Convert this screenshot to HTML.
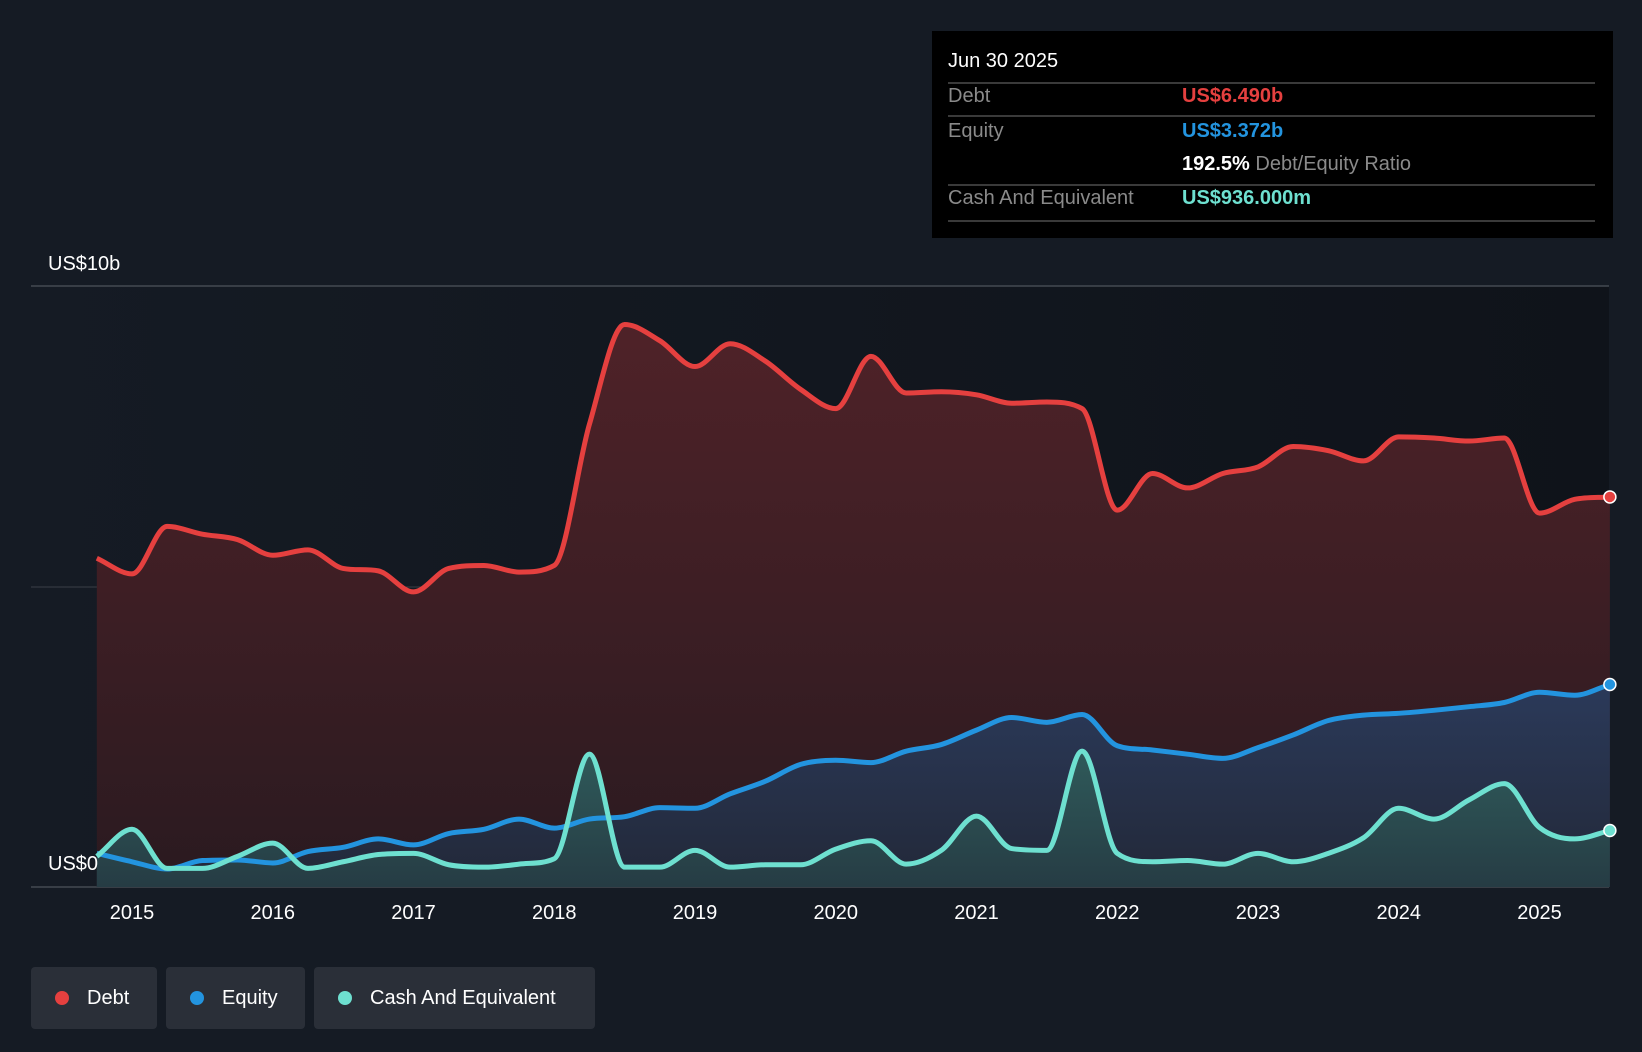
<!DOCTYPE html>
<html><head><meta charset="utf-8"><style>
body{margin:0;width:1642px;height:1052px;background:#151b24;font-family:"Liberation Sans",sans-serif;overflow:hidden;position:relative}
.tt{position:absolute;left:932px;top:31px;width:681px;height:207px;background:#000}
.tt div{position:absolute;font-size:20px;white-space:nowrap}
.sep{position:absolute;left:16px;width:647px;height:2px;background:#3a3a3a}
.leg{position:absolute;top:967px;height:62px;background:#2a2f38;border-radius:4px;color:#fff;font-size:20px;line-height:62px}
.leg span{display:inline-block;width:14px;height:14px;border-radius:7px;margin:0 18px 0 24px;vertical-align:-1px}
</style></head><body>
<svg id="chart" width="1642" height="1052" style="position:absolute;left:0;top:0">
<defs>
<linearGradient id="pbg" x1="0" y1="0" x2="1" y2="0"><stop offset="0" stop-color="#151b24"/><stop offset="1" stop-color="#0f131a"/></linearGradient>
<linearGradient id="dg" x1="0" y1="0" x2="0" y2="1"><stop offset="0" stop-color="#4f2228"/><stop offset="1" stop-color="#2a1a20"/></linearGradient>
<linearGradient id="eg" x1="0" y1="0" x2="0" y2="1"><stop offset="0" stop-color="#2b3a5a"/><stop offset="1" stop-color="#222838"/></linearGradient>
<linearGradient id="cg" x1="0" y1="0" x2="0" y2="1"><stop offset="0" stop-color="#2f5a5a"/><stop offset="1" stop-color="#263c44"/></linearGradient>
</defs>
<rect x="31" y="286" width="1578" height="601" fill="url(#pbg)"/>
<line x1="31" y1="286" x2="1609" y2="286" stroke="#444a52" stroke-width="1.5"/>
<line x1="31" y1="587" x2="1609" y2="587" stroke="#3a3f47" stroke-width="1"/>
<line x1="31" y1="887" x2="1609" y2="887" stroke="#444a52" stroke-width="1.5"/>
<g id="series"></g>
<text x="48" y="270" fill="#fff" font-size="20">US$10b</text>
<text x="48" y="870" fill="#fff" font-size="20">US$0</text>
<g id="xt"></g>
</svg>
<div class="tt">
<div style="left:16px;top:19px;color:#fff">Jun 30 2025</div>
<div class="sep" style="top:51px"></div>
<div style="left:16px;top:54px;color:#8a8a8a">Debt</div>
<div style="left:250px;top:54px;color:#e5403f;font-weight:bold">US$6.490b</div>
<div class="sep" style="top:84px"></div>
<div style="left:16px;top:89px;color:#8a8a8a">Equity</div>
<div style="left:250px;top:89px;color:#2394df;font-weight:bold">US$3.372b</div>
<div style="left:250px;top:122px;color:#fff"><b>192.5%</b> <span style="color:#8a8a8a">Debt/Equity Ratio</span></div>
<div class="sep" style="top:153px"></div>
<div style="left:16px;top:156px;color:#8a8a8a">Cash And Equivalent</div>
<div style="left:250px;top:156px;color:#6ee0d0;font-weight:bold">US$936.000m</div>
<div class="sep" style="top:189px"></div>
</div>
<div class="leg" style="left:31px;width:126px"><span style="background:#e5403f"></span>Debt</div>
<div class="leg" style="left:166px;width:139px"><span style="background:#2394df"></span>Equity</div>
<div class="leg" style="left:314px;width:281px"><span style="background:#6ee0d0"></span>Cash And Equivalent</div>
<script>
const startYear = 2014.75;
const debt = [5.47,5.21,6.0,5.87,5.78,5.52,5.61,5.30,5.26,4.91,5.30,5.35,5.24,5.35,7.7,9.36,9.09,8.66,9.04,8.75,8.28,7.96,8.83,8.22,8.24,8.19,8.05,8.07,7.96,6.27,6.88,6.64,6.88,6.99,7.33,7.26,7.09,7.49,7.47,7.42,7.47,6.22,6.45,6.49];
const equity = [0.56,0.42,0.30,0.44,0.45,0.40,0.59,0.66,0.80,0.70,0.89,0.96,1.13,0.98,1.13,1.17,1.32,1.31,1.55,1.76,2.04,2.11,2.07,2.26,2.37,2.61,2.82,2.74,2.87,2.35,2.28,2.21,2.14,2.32,2.53,2.77,2.86,2.89,2.94,3.0,3.07,3.24,3.19,3.37];
const cash = [0.51,0.96,0.31,0.31,0.51,0.73,0.31,0.42,0.54,0.56,0.37,0.33,0.38,0.47,2.21,0.33,0.33,0.61,0.33,0.37,0.37,0.63,0.77,0.38,0.61,1.18,0.64,0.61,2.26,0.56,0.42,0.44,0.38,0.56,0.42,0.56,0.82,1.31,1.13,1.45,1.72,0.99,0.80,0.94];
const xTicks = [2015,2016,2017,2018,2019,2020,2021,2022,2023,2024,2025];
const X = t => 132 + (t - 2015) * 140.75;
const Y = v => 887 - v * 60.1;
const NS = "http://www.w3.org/2000/svg";
function pts(arr){return arr.map((v,i)=>[X(startYear+i*0.25),Y(v)]);}
function smooth(p){
  const n=p.length,m=[],s=[];
  for(let i=0;i<n-1;i++)s.push((p[i+1][1]-p[i][1])/(p[i+1][0]-p[i][0]));
  for(let i=0;i<n;i++){
    if(i===0)m.push(s[0]);else if(i===n-1)m.push(s[n-2]);
    else{const a=s[i-1],b=s[i];m.push(a*b<=0?0:(a+b)/2*Math.min(1,Math.min(3*Math.abs(a),3*Math.abs(b))/Math.abs((a+b)/2)));}
  }
  let d="M"+p[0][0]+","+p[0][1];
  for(let i=0;i<n-1;i++){const h=(p[i+1][0]-p[i][0])/3;
    d+=" C"+(p[i][0]+h)+","+(p[i][1]+m[i]*h)+" "+(p[i+1][0]-h)+","+(p[i+1][1]-m[i+1]*h)+" "+p[i+1][0]+","+p[i+1][1];}
  return d;
}
const g=document.getElementById("series");
function draw(arr,color,fill,name){
  const p=pts(arr);const line=smooth(p);
  const a=document.createElementNS(NS,"path");
  a.setAttribute("d",line+" L"+p[p.length-1][0]+","+Y(0)+" L"+p[0][0]+","+Y(0)+"Z");
  a.setAttribute("fill",fill);
  
  
  g.appendChild(a);
  return ()=>{
    const l=document.createElementNS(NS,"path");
    l.setAttribute("d",line);l.setAttribute("fill","none");l.setAttribute("stroke",color);l.setAttribute("stroke-width","5");l.setAttribute("stroke-linejoin","round");
    
    
    g.appendChild(l);
    const c=document.createElementNS(NS,"circle");
    const e=p[p.length-1];c.setAttribute("cx",e[0]);c.setAttribute("cy",e[1]);c.setAttribute("r","6");c.setAttribute("fill",color);c.setAttribute("stroke","#fff");c.setAttribute("stroke-width","1.5");
    
    
    g.appendChild(c);
  };
}
const fd=draw(debt,"#e5403f","url(#dg)","debt");
const fe=draw(equity,"#2394df","url(#eg)","equity");
const fc=draw(cash,"#6ee0d0","url(#cg)","cash");
fd();fe();fc();
const xt=document.getElementById("xt");
xTicks.forEach(t=>{const tx=document.createElementNS(NS,"text");tx.setAttribute("x",X(t));tx.setAttribute("y",919);tx.setAttribute("fill","#fff");tx.setAttribute("font-size","20");tx.setAttribute("text-anchor","middle");tx.textContent=t;


xt.appendChild(tx);});
</script>
</body></html>
